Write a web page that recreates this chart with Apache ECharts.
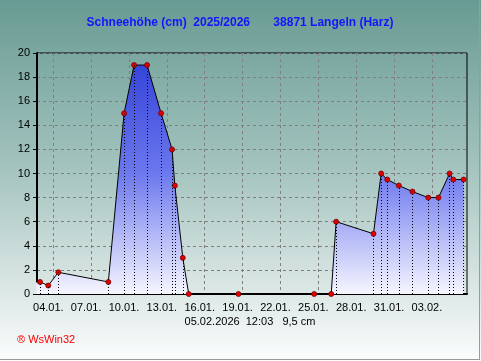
<!DOCTYPE html>
<html>
<head>
<meta charset="utf-8">
<script src="https://cdn.jsdelivr.net/npm/echarts@6/dist/echarts.min.js"></script>
<style>html,body{margin:0;padding:0;background:#fff}#c{width:481px;height:361px}</style>
</head>
<body>
<div id="c"></div>
<script>
// day number: 1 = 01.01.2026 00:00, 32 = 01.02.2026
const days = [2.4, 2.95, 3.60, 4.40, 8.36, 9.61, 10.40, 11.43, 12.54, 13.41, 13.63, 14.26, 14.73, 18.67, 24.67, 26.02, 26.41, 29.37, 29.98, 30.46, 31.38, 32.46, 33.71, 34.52, 35.40, 35.69, 36.51];
const snow = [1.0, 1.0, 0.7, 1.8, 1.0, 15, 19, 19, 15, 12, 9, 3, 0, 0, 0, 0, 6, 5, 10, 9.5, 9, 8.5, 8, 8, 10, 9.5, 9.5];
const tickDays = [4, 7, 10, 13, 16, 19, 22, 25, 28, 31, 34];
const tickLabels = ['04.01.', '07.01.', '10.01.', '13.01.', '16.01.', '19.01.', '22.01.', '25.01.', '28.01.', '31.01.', '03.02.'];
const yTicks = [0, 2, 4, 6, 8, 10, 12, 14, 16, 18, 20];
const titleText = 'Schneehöhe (cm)  2025/2026       38871 Langeln (Harz)';
const footText = '05.02.2026  12:03   9,5 cm';
const xMin = 2.708, xMax = 36.78;

const FONT = '"Liberation Sans Narrow", "Liberation Sans", Arial, sans-serif';
const chart = echarts.init(document.getElementById('c'));
const pts = days.map((d, i) => [d, snow[i]]);
const drops = days.map((d, i) => [d, snow[i]])
  .filter(p => p[0] >= xMin && p[1] > 0)
  .map(p => [{coord: [p[0], 0]}, {coord: [p[0], p[1]]}]);

chart.setOption({
  animation: false,
  backgroundColor: 'transparent',
  graphic: [
    {type: 'rect', z: -100, shape: {x: 0, y: 0, width: 481, height: 361},
     style: {fill: {type: 'linear', x: 0, y: 0, x2: 0, y2: 1, colorStops: [
       {offset: 0, color: '#689b93'}, {offset: 0.45, color: '#a2c2bd'}, {offset: 0.8, color: '#dbe7e5'}, {offset: 1, color: '#fbfdfd'}]}}, silent: true},
    {type: 'line', shape: {x1: 479.5, y1: 0, x2: 479.5, y2: 360}, style: {stroke: '#9a9a9a', lineWidth: 1}},
    {type: 'line', shape: {x1: 0, y1: 359.5, x2: 480, y2: 359.5}, style: {stroke: '#9a9a9a', lineWidth: 1}},
    {type: 'text', x: 240, y: 23, style: {text: titleText, fill: '#1414ff', font: 'bold 12px "Liberation Sans", Arial, sans-serif', textAlign: 'center', textVerticalAlign: 'middle'}},
    {type: 'text', x: 250, y: 322, style: {text: footText, fill: '#000', font: '11px ' + FONT, textAlign: 'center', textVerticalAlign: 'middle'}},
    {type: 'text', x: 17, y: 340, style: {text: '® WsWin32', fill: '#ff0000', font: '11px ' + FONT, textAlign: 'left', textVerticalAlign: 'middle'}}
  ],
  grid: {left: 37, right: 14, top: 53, bottom: 67, show: true, borderColor: '#000', borderWidth: 1, backgroundColor: 'transparent'},
  xAxis: {
    type: 'value', min: xMin, max: xMax,
    axisLine: {show: true, onZero: false, lineStyle: {color: '#000', width: 2}},
    axisTick: {show: false, customValues: tickDays},
    axisLabel: {customValues: tickDays, color: '#000', fontSize: 11, fontFamily: FONT, margin: 8, padding: [0, 10, 0, 0],
      formatter: v => { const i = tickDays.indexOf(Math.round(v)); return i >= 0 ? tickLabels[i] : ''; }},
    splitLine: {show: true, lineStyle: {color: '#7f7f7f', type: [3, 3], width: 1}}
  },
  yAxis: {
    type: 'value', min: 0, max: 20, interval: 2,
    axisLine: {show: true, lineStyle: {color: '#000', width: 2}},
    axisTick: {show: true, length: 4, lineStyle: {color: '#000'}},
    axisLabel: {color: '#000', fontSize: 11, fontFamily: FONT, margin: 7,
      formatter: v => yTicks.indexOf(v) >= 0 ? String(v) : ''},
    splitLine: {show: true, lineStyle: {color: '#7f7f7f', type: [3, 3], width: 1}}
  },
  series: [{
    type: 'line', data: pts, clip: true,
    symbol: 'circle', symbolSize: 5,
    itemStyle: {color: '#e80000', borderColor: '#700000', borderWidth: 0.8},
    lineStyle: {color: '#000', width: 1},
    areaStyle: {opacity: 1, color: {type: 'linear', x: 0, y: 53, x2: 0, y2: 294, global: true, colorStops: [
      {offset: 0, color: '#2f3fd6'}, {offset: 0.5, color: '#6c78ee'}, {offset: 1, color: '#f6f6ff'}]}},
    markLine: {silent: true, symbol: ['none', 'none'], label: {show: false},
      lineStyle: {color: '#000', type: [1, 2], width: 1}, data: drops},
    z: 3
  }]
});
</script>
</body>
</html>
